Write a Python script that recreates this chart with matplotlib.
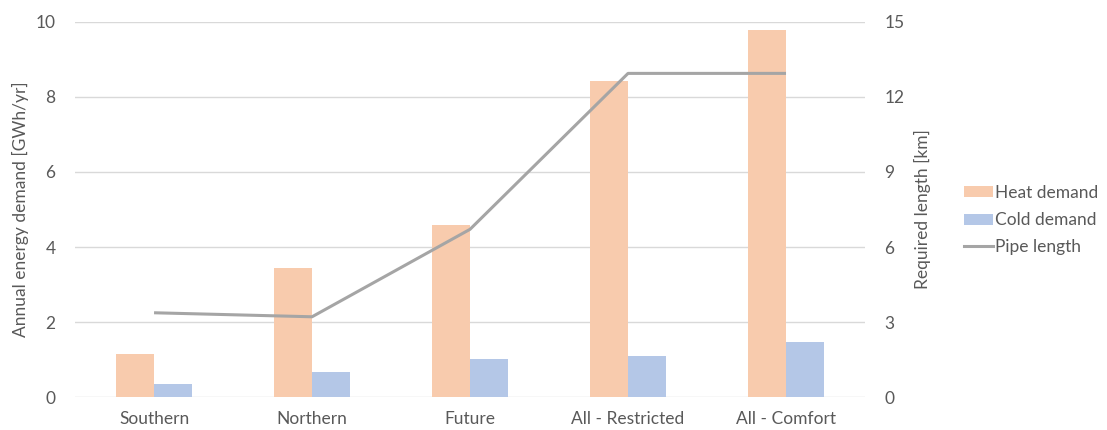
import matplotlib
matplotlib.use("Agg")
import matplotlib.pyplot as plt
import numpy as np
from matplotlib.patches import Patch
from matplotlib.lines import Line2D

plt.rcParams['font.family'] = ['Lato', 'DejaVu Sans']

categories = ["Southern", "Northern", "Future", "All - Restricted", "All - Comfort"]
heat_demand = [1.16, 3.44, 4.59, 8.42, 9.77]
cold_demand = [0.35, 0.68, 1.02, 1.10, 1.48]
pipe_length = [3.38, 3.22, 6.71, 12.93, 12.93]
left_ticks = [0, 2, 4, 6, 8, 10]
right_ticks = [0, 3, 6, 9, 12, 15]

heat_color = "#F8CBAD"
cold_color = "#B4C7E7"
line_color = "#A5A5A5"
text_color = "#595959"
grid_color = "#D9D9D9"

fig = plt.figure(figsize=(11.07, 4.30), dpi=100)
ax = fig.add_axes([0.0678, 0.0756, 0.7136, 0.8744])
ax2 = ax.twinx()

x = np.arange(len(categories))
w = 0.24
ax.bar(x - w / 2, heat_demand, width=w, color=heat_color, zorder=2)
ax.bar(x + w / 2, cold_demand, width=w, color=cold_color, zorder=2)
ax2.plot(x, pipe_length, color=line_color, lw=2.2, solid_capstyle='butt', zorder=3)

ax.set_xlim(-0.5, len(categories) - 0.5)
ax.set_ylim(0, 10)
ax2.set_ylim(0, 15)
ax.set_yticks(left_ticks)
ax2.set_yticks(right_ticks)
ax.set_xticks(x)
ax.set_xticklabels(categories)

ax.grid(axis='y', color=grid_color, lw=1.0, zorder=0)
ax.set_axisbelow(True)
fs = 12.5
for a in (ax, ax2):
    for s in a.spines.values():
        s.set_visible(False)
    a.tick_params(length=0, labelsize=fs, colors=text_color)
ax.tick_params(axis='x', pad=10)
ax.tick_params(axis='y', pad=14)
ax2.tick_params(axis='y', pad=14)

ax.set_ylabel("Annual energy demand [GWh/yr]", fontsize=fs, color=text_color, labelpad=5)
ax2.set_ylabel("Required length [km]", fontsize=fs, color=text_color, labelpad=7)

handles = [Patch(facecolor=heat_color, edgecolor='none'),
           Patch(facecolor=cold_color, edgecolor='none'),
           Line2D([0], [0], color=line_color, lw=2.2)]
labels = ["Heat demand", "Cold demand", "Pipe length"]
leg = fig.legend(handles, labels, loc='center left', bbox_to_anchor=(0.863, 0.488),
                 frameon=False, fontsize=fs, handlelength=1.65, handleheight=0.6,
                 handletextpad=0.15, labelspacing=0.64, borderpad=0)
for t in leg.get_texts():
    t.set_color(text_color)

fig.savefig("out.png", dpi=100)
